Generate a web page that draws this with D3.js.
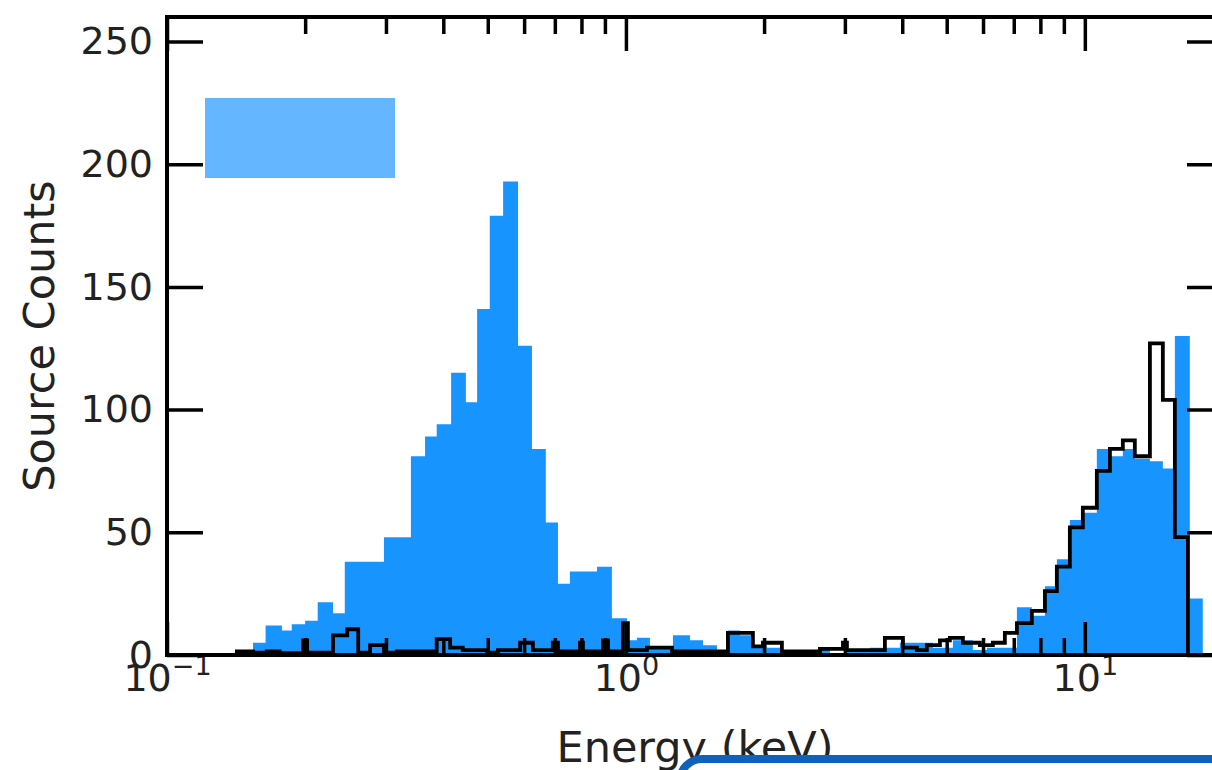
<!DOCTYPE html>
<html>
<head>
<meta charset="utf-8">
<script src="https://cdn.jsdelivr.net/npm/d3@7"></script>
<style>
  body { margin: 0; background: #fff; }
  svg { display: block; font-family: "DejaVu Sans", sans-serif; }
</style>
</head>
<body>
<div id="chart"></div>
<script>
// filled (blue) spectrum: bin edges in keV, counts per bin
const blueEdges = [0.154, 0.164, 0.178, 0.187, 0.200, 0.213, 0.230, 0.244, 0.297, 0.340,
  0.365, 0.387, 0.416, 0.448, 0.474, 0.505, 0.540, 0.582, 0.624, 0.669,
  0.711, 0.755, 0.865, 0.932, 1.005, 1.057, 1.128, 1.266, 1.379, 1.472,
  1.579, 1.668, 1.772, 1.891, 2.029, 2.187, 2.555, 2.783, 3.031, 3.401,
  3.704, 3.954, 4.221, 4.666, 5.158, 5.702, 6.115, 7.111, 7.665, 8.185,
  8.690, 9.275, 9.900, 10.62, 11.34, 12.10, 12.85, 13.86, 14.79, 15.71,
  16.93, 18.07];
const blueCounts = [5, 12, 10, 12.5, 14, 21.5, 17, 38, 48, 81,
  89, 94, 115, 103, 141, 179, 193, 126, 84, 54,
  29, 34, 36, 15, 6, 7, 3, 8, 6, 4,
  1, 10, 8, 4, 3, 0.5, 2, 0.5, 2, 3,
  3, 5, 5, 3, 6, 2, 3, 19.5, 16, 28,
  39, 55, 58, 84, 81, 84, 80, 79, 76, 130,
  23];

// step (black) spectrum
const blackEdges = [0.100, 0.142, 0.154, 0.165, 0.176, 0.198, 0.202, 0.230, 0.247, 0.261,
  0.277, 0.297, 0.317, 0.387, 0.414, 0.441, 0.498, 0.526, 0.588, 0.627,
  0.693, 0.711, 0.794, 0.806, 0.891, 0.914, 0.985, 1.010, 1.111, 1.260,
  1.668, 1.891, 1.989, 2.187, 2.647, 2.971, 3.031, 3.667, 4.013, 4.305,
  4.526, 4.832, 5.080, 5.423, 5.905, 6.303, 6.694, 7.111, 7.665, 8.185,
  8.690, 9.275, 9.900, 10.62, 11.34, 12.10, 12.85, 13.86, 14.79, 15.71,
  16.77];
const blackCounts = [0, 1.5, 1, 1.5, 0.8, 6, 1, 8, 10.5, 1,
  4, 1, 1.5, 6.5, 3, 2, 1, 2, 5, 2,
  5, 1.5, 5, 1.5, 6, 1.5, 13, 2, 3, 1.5,
  9, 3.5, 5, 1.5, 2.5, 5, 2, 7, 3, 2,
  4, 6, 7, 5, 4, 5, 9, 13, 18, 26,
  36, 52, 60, 75, 84, 87.5, 81, 127, 104, 48];

const yTicks = [0, 50, 100, 150, 200, 250];
const xMajorTicks = [0.1, 1, 10];
const xMajorExponents = ["\u22121", "0", "1"];
const xMinorTicks = [0.2, 0.3, 0.4, 0.5, 0.6, 0.7, 0.8, 0.9, 2, 3, 4, 5, 6, 7, 8, 9];

const width = 1212;
const height = 770;
const plot = { left: 167, right: 1223, top: 17, bottom: 655 };
const textColor = "#222";

const svg = d3.select("#chart")
  .append("svg")
  .attr("width", width)
  .attr("height", height);

svg.append("rect")
  .attr("width", width)
  .attr("height", height)
  .attr("fill", "#fff");

const x = d3.scaleLog().domain([0.1, 20]).range([plot.left, plot.right]);
const y = d3.scaleLinear().domain([0, 260]).range([plot.bottom, plot.top]);

svg.append("clipPath")
  .attr("id", "plot-clip")
  .append("rect")
  .attr("x", plot.left)
  .attr("y", plot.top)
  .attr("width", plot.right - plot.left)
  .attr("height", plot.bottom - plot.top);

const g = svg.append("g").attr("clip-path", "url(#plot-clip)");

// histogram -> step points [edge, count], last edge repeats the last count
function stepPoints(edges, counts) {
  const pts = counts.map((c, i) => [edges[i], c]);
  pts.push([edges[edges.length - 1], counts[counts.length - 1]]);
  return pts;
}

const blueArea = d3.area()
  .x(d => x(d[0]))
  .y0(y(0))
  .y1(d => y(d[1]))
  .curve(d3.curveStepAfter);

g.append("path")
  .datum(stepPoints(blueEdges, blueCounts))
  .attr("fill", "#1794fd")
  .attr("d", blueArea);

const blackLine = d3.line()
  .x(d => x(d[0]))
  .y(d => y(d[1]))
  .curve(d3.curveStepAfter);

const blackPts = [[blackEdges[0], 0]]
  .concat(stepPoints(blackEdges, blackCounts))
  .concat([[blackEdges[blackEdges.length - 1], 0]]);

g.append("path")
  .datum(blackPts)
  .attr("fill", "none")
  .attr("stroke", "#000")
  .attr("stroke-width", 3.8)
  .attr("stroke-linejoin", "miter")
  .attr("d", blackLine);

// legend patch (label not shown)
svg.append("rect")
  .attr("x", 205)
  .attr("y", 98)
  .attr("width", 190)
  .attr("height", 80)
  .attr("fill", "#64b7fe");

// axes, all ticks point inward
function styleAxis(sel) {
  sel.select(".domain").remove();
  sel.selectAll(".tick line")
    .attr("stroke", "#000")
    .attr("stroke-width", 3.5);
}

svg.append("g")
  .attr("transform", `translate(${plot.left},0)`)
  .call(d3.axisLeft(y).tickValues(yTicks).tickSizeInner(-36).tickSizeOuter(0).tickPadding(14))
  .call(styleAxis)
  .call(s => s.selectAll("text")
    .attr("font-family", "DejaVu Sans")
    .attr("font-size", 38)
    .attr("fill", textColor));

svg.append("g")
  .attr("transform", `translate(${plot.right},0)`)
  .call(d3.axisRight(y).tickValues(yTicks).tickSizeInner(-36).tickSizeOuter(0).tickFormat(""))
  .call(styleAxis);

const xBottom = svg.append("g")
  .attr("transform", `translate(0,${plot.bottom})`)
  .call(d3.axisBottom(x).tickValues(xMajorTicks).tickSizeInner(-33).tickSizeOuter(0).tickFormat(""))
  .call(styleAxis);

svg.append("g")
  .attr("transform", `translate(0,${plot.bottom})`)
  .call(d3.axisBottom(x).tickValues(xMinorTicks).tickSizeInner(-17).tickSizeOuter(0).tickFormat(""))
  .call(styleAxis);

svg.append("g")
  .attr("transform", `translate(0,${plot.top})`)
  .call(d3.axisTop(x).tickValues(xMajorTicks).tickSizeInner(-34).tickSizeOuter(0).tickFormat(""))
  .call(styleAxis);

svg.append("g")
  .attr("transform", `translate(0,${plot.top})`)
  .call(d3.axisTop(x).tickValues(xMinorTicks).tickSizeInner(-17).tickSizeOuter(0).tickFormat(""))
  .call(styleAxis);

// x tick labels as 10^n
xBottom.selectAll(".tick").each(function (d, i) {
  const t = d3.select(this).append("text")
    .attr("y", 36)
    .attr("text-anchor", "middle")
    .attr("font-family", "DejaVu Sans")
    .attr("fill", textColor);
  t.append("tspan").attr("font-size", 38).text("10");
  t.append("tspan")
    .attr("font-size", 27)
    .attr("dy", -16)
    .text(xMajorExponents[i]);
});

// frame
svg.append("rect")
  .attr("x", plot.left)
  .attr("y", plot.top)
  .attr("width", plot.right - plot.left)
  .attr("height", plot.bottom - plot.top)
  .attr("fill", "none")
  .attr("stroke", "#000")
  .attr("stroke-width", 4);

// axis titles
svg.append("text")
  .attr("x", (plot.left + plot.right) / 2)
  .attr("y", 762)
  .attr("text-anchor", "middle")
  .attr("font-size", 43)
  .attr("fill", textColor)
  .text("Energy (keV)");

svg.append("text")
  .attr("transform", `translate(54,${(plot.top + plot.bottom) / 2}) rotate(-90)`)
  .attr("text-anchor", "middle")
  .attr("font-size", 43)
  .attr("fill", textColor)
  .text("Source Counts");

// overlapping box at the bottom right
svg.append("rect")
  .attr("x", 680)
  .attr("y", 759)
  .attr("width", 640)
  .attr("height", 120)
  .attr("rx", 22)
  .attr("fill", "#fff")
  .attr("stroke", "#0f62b9")
  .attr("stroke-width", 8);
</script>
</body>
</html>
